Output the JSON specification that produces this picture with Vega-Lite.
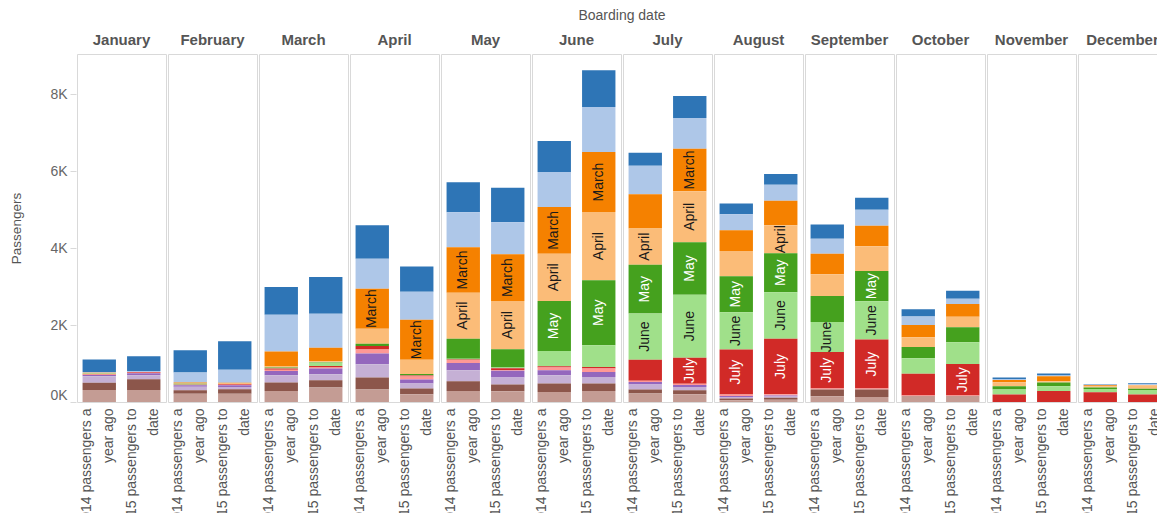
{
  "$schema": "https://vega.github.io/schema/vega-lite/v6.json",
  "padding": {"left": 9, "top": 9, "right": 0, "bottom": 0},
  "datasets": {
    "raw": [
      {"boarding":"January","series":"2014 passengers a year ago","booking":"January","bm":1,"n":322},
      {"boarding":"January","series":"2014 passengers a year ago","booking":"February","bm":2,"n":20},
      {"boarding":"January","series":"2014 passengers a year ago","booking":"March","bm":3,"n":10},
      {"boarding":"January","series":"2014 passengers a year ago","booking":"April","bm":4,"n":10},
      {"boarding":"January","series":"2014 passengers a year ago","booking":"May","bm":5,"n":5},
      {"boarding":"January","series":"2014 passengers a year ago","booking":"June","bm":6,"n":8},
      {"boarding":"January","series":"2014 passengers a year ago","booking":"July","bm":7,"n":10},
      {"boarding":"January","series":"2014 passengers a year ago","booking":"August","bm":8,"n":15},
      {"boarding":"January","series":"2014 passengers a year ago","booking":"September","bm":9,"n":35},
      {"boarding":"January","series":"2014 passengers a year ago","booking":"October","bm":10,"n":164},
      {"boarding":"January","series":"2014 passengers a year ago","booking":"November","bm":11,"n":190},
      {"boarding":"January","series":"2014 passengers a year ago","booking":"December","bm":12,"n":312},
      {"boarding":"January","series":"2015 passengers to date","booking":"January","bm":1,"n":382},
      {"boarding":"January","series":"2015 passengers to date","booking":"February","bm":2,"n":26},
      {"boarding":"January","series":"2015 passengers to date","booking":"July","bm":7,"n":20},
      {"boarding":"January","series":"2015 passengers to date","booking":"August","bm":8,"n":14},
      {"boarding":"January","series":"2015 passengers to date","booking":"September","bm":9,"n":52},
      {"boarding":"January","series":"2015 passengers to date","booking":"October","bm":10,"n":104},
      {"boarding":"January","series":"2015 passengers to date","booking":"November","bm":11,"n":278},
      {"boarding":"January","series":"2015 passengers to date","booking":"December","bm":12,"n":312},

      {"boarding":"February","series":"2014 passengers a year ago","booking":"January","bm":1,"n":580},
      {"boarding":"February","series":"2014 passengers a year ago","booking":"February","bm":2,"n":260},
      {"boarding":"February","series":"2014 passengers a year ago","booking":"March","bm":3,"n":20},
      {"boarding":"February","series":"2014 passengers a year ago","booking":"April","bm":4,"n":10},
      {"boarding":"February","series":"2014 passengers a year ago","booking":"May","bm":5,"n":15},
      {"boarding":"February","series":"2014 passengers a year ago","booking":"June","bm":6,"n":10},
      {"boarding":"February","series":"2014 passengers a year ago","booking":"July","bm":7,"n":8},
      {"boarding":"February","series":"2014 passengers a year ago","booking":"August","bm":8,"n":8},
      {"boarding":"February","series":"2014 passengers a year ago","booking":"September","bm":9,"n":40},
      {"boarding":"February","series":"2014 passengers a year ago","booking":"October","bm":10,"n":90},
      {"boarding":"February","series":"2014 passengers a year ago","booking":"November","bm":11,"n":87},
      {"boarding":"February","series":"2014 passengers a year ago","booking":"December","bm":12,"n":217},
      {"boarding":"February","series":"2015 passengers to date","booking":"January","bm":1,"n":736},
      {"boarding":"February","series":"2015 passengers to date","booking":"February","bm":2,"n":338},
      {"boarding":"February","series":"2015 passengers to date","booking":"March","bm":3,"n":25},
      {"boarding":"February","series":"2015 passengers to date","booking":"April","bm":4,"n":10},
      {"boarding":"February","series":"2015 passengers to date","booking":"July","bm":7,"n":20},
      {"boarding":"February","series":"2015 passengers to date","booking":"August","bm":8,"n":15},
      {"boarding":"February","series":"2015 passengers to date","booking":"September","bm":9,"n":44},
      {"boarding":"February","series":"2015 passengers to date","booking":"October","bm":10,"n":60},
      {"boarding":"February","series":"2015 passengers to date","booking":"November","bm":11,"n":112},
      {"boarding":"February","series":"2015 passengers to date","booking":"December","bm":12,"n":217},

      {"boarding":"March","series":"2014 passengers a year ago","booking":"January","bm":1,"n":719},
      {"boarding":"March","series":"2014 passengers a year ago","booking":"February","bm":2,"n":953},
      {"boarding":"March","series":"2014 passengers a year ago","booking":"March","bm":3,"n":390},
      {"boarding":"March","series":"2014 passengers a year ago","booking":"April","bm":4,"n":26},
      {"boarding":"March","series":"2014 passengers a year ago","booking":"May","bm":5,"n":18},
      {"boarding":"March","series":"2014 passengers a year ago","booking":"June","bm":6,"n":13},
      {"boarding":"March","series":"2014 passengers a year ago","booking":"July","bm":7,"n":30},
      {"boarding":"March","series":"2014 passengers a year ago","booking":"August","bm":8,"n":32},
      {"boarding":"March","series":"2014 passengers a year ago","booking":"September","bm":9,"n":112},
      {"boarding":"March","series":"2014 passengers a year ago","booking":"October","bm":10,"n":190},
      {"boarding":"March","series":"2014 passengers a year ago","booking":"November","bm":11,"n":218},
      {"boarding":"March","series":"2014 passengers a year ago","booking":"December","bm":12,"n":286},
      {"boarding":"March","series":"2015 passengers to date","booking":"January","bm":1,"n":953},
      {"boarding":"March","series":"2015 passengers to date","booking":"February","bm":2,"n":883},
      {"boarding":"March","series":"2015 passengers to date","booking":"March","bm":3,"n":353},
      {"boarding":"March","series":"2015 passengers to date","booking":"April","bm":4,"n":25},
      {"boarding":"March","series":"2015 passengers to date","booking":"May","bm":5,"n":15},
      {"boarding":"March","series":"2015 passengers to date","booking":"June","bm":6,"n":80},
      {"boarding":"March","series":"2015 passengers to date","booking":"July","bm":7,"n":40},
      {"boarding":"March","series":"2015 passengers to date","booking":"August","bm":8,"n":30},
      {"boarding":"March","series":"2015 passengers to date","booking":"September","bm":9,"n":148},
      {"boarding":"March","series":"2015 passengers to date","booking":"October","bm":10,"n":156},
      {"boarding":"March","series":"2015 passengers to date","booking":"November","bm":11,"n":190},
      {"boarding":"March","series":"2015 passengers to date","booking":"December","bm":12,"n":374},

      {"boarding":"April","series":"2014 passengers a year ago","booking":"January","bm":1,"n":866},
      {"boarding":"April","series":"2014 passengers a year ago","booking":"February","bm":2,"n":779},
      {"boarding":"April","series":"2014 passengers a year ago","booking":"March","bm":3,"n":1039},
      {"boarding":"April","series":"2014 passengers a year ago","booking":"April","bm":4,"n":390},
      {"boarding":"April","series":"2014 passengers a year ago","booking":"May","bm":5,"n":60},
      {"boarding":"April","series":"2014 passengers a year ago","booking":"July","bm":7,"n":94},
      {"boarding":"April","series":"2014 passengers a year ago","booking":"August","bm":8,"n":104},
      {"boarding":"April","series":"2014 passengers a year ago","booking":"September","bm":9,"n":278},
      {"boarding":"April","series":"2014 passengers a year ago","booking":"October","bm":10,"n":346},
      {"boarding":"April","series":"2014 passengers a year ago","booking":"November","bm":11,"n":312},
      {"boarding":"April","series":"2014 passengers a year ago","booking":"December","bm":12,"n":322},
      {"boarding":"April","series":"2015 passengers to date","booking":"January","bm":1,"n":658},
      {"boarding":"April","series":"2015 passengers to date","booking":"February","bm":2,"n":727},
      {"boarding":"April","series":"2015 passengers to date","booking":"March","bm":3,"n":1039},
      {"boarding":"April","series":"2015 passengers to date","booking":"April","bm":4,"n":372},
      {"boarding":"April","series":"2015 passengers to date","booking":"May","bm":5,"n":30},
      {"boarding":"April","series":"2015 passengers to date","booking":"June","bm":6,"n":10},
      {"boarding":"April","series":"2015 passengers to date","booking":"July","bm":7,"n":25},
      {"boarding":"April","series":"2015 passengers to date","booking":"August","bm":8,"n":80},
      {"boarding":"April","series":"2015 passengers to date","booking":"September","bm":9,"n":104},
      {"boarding":"April","series":"2015 passengers to date","booking":"October","bm":10,"n":130},
      {"boarding":"April","series":"2015 passengers to date","booking":"November","bm":11,"n":148},
      {"boarding":"April","series":"2015 passengers to date","booking":"December","bm":12,"n":200},

      {"boarding":"May","series":"2014 passengers a year ago","booking":"January","bm":1,"n":779},
      {"boarding":"May","series":"2014 passengers a year ago","booking":"February","bm":2,"n":909},
      {"boarding":"May","series":"2014 passengers a year ago","booking":"March","bm":3,"n":1184},
      {"boarding":"May","series":"2014 passengers a year ago","booking":"April","bm":4,"n":1195},
      {"boarding":"May","series":"2014 passengers a year ago","booking":"May","bm":5,"n":519},
      {"boarding":"May","series":"2014 passengers a year ago","booking":"June","bm":6,"n":20},
      {"boarding":"May","series":"2014 passengers a year ago","booking":"July","bm":7,"n":10},
      {"boarding":"May","series":"2014 passengers a year ago","booking":"August","bm":8,"n":80},
      {"boarding":"May","series":"2014 passengers a year ago","booking":"September","bm":9,"n":190},
      {"boarding":"May","series":"2014 passengers a year ago","booking":"October","bm":10,"n":286},
      {"boarding":"May","series":"2014 passengers a year ago","booking":"November","bm":11,"n":252},
      {"boarding":"May","series":"2014 passengers a year ago","booking":"December","bm":12,"n":286},
      {"boarding":"May","series":"2015 passengers to date","booking":"January","bm":1,"n":901},
      {"boarding":"May","series":"2015 passengers to date","booking":"February","bm":2,"n":831},
      {"boarding":"May","series":"2015 passengers to date","booking":"March","bm":3,"n":1210},
      {"boarding":"May","series":"2015 passengers to date","booking":"April","bm":4,"n":1257},
      {"boarding":"May","series":"2015 passengers to date","booking":"May","bm":5,"n":475},
      {"boarding":"May","series":"2015 passengers to date","booking":"June","bm":6,"n":20},
      {"boarding":"May","series":"2015 passengers to date","booking":"July","bm":7,"n":40},
      {"boarding":"May","series":"2015 passengers to date","booking":"August","bm":8,"n":20},
      {"boarding":"May","series":"2015 passengers to date","booking":"September","bm":9,"n":180},
      {"boarding":"May","series":"2015 passengers to date","booking":"October","bm":10,"n":182},
      {"boarding":"May","series":"2015 passengers to date","booking":"November","bm":11,"n":174},
      {"boarding":"May","series":"2015 passengers to date","booking":"December","bm":12,"n":278},

      {"boarding":"June","series":"2014 passengers a year ago","booking":"January","bm":1,"n":805},
      {"boarding":"June","series":"2014 passengers a year ago","booking":"February","bm":2,"n":909},
      {"boarding":"June","series":"2014 passengers a year ago","booking":"March","bm":3,"n":1210},
      {"boarding":"June","series":"2014 passengers a year ago","booking":"April","bm":4,"n":1231},
      {"boarding":"June","series":"2014 passengers a year ago","booking":"May","bm":5,"n":1298},
      {"boarding":"June","series":"2014 passengers a year ago","booking":"June","bm":6,"n":397},
      {"boarding":"June","series":"2014 passengers a year ago","booking":"July","bm":7,"n":30},
      {"boarding":"June","series":"2014 passengers a year ago","booking":"August","bm":8,"n":74},
      {"boarding":"June","series":"2014 passengers a year ago","booking":"September","bm":9,"n":130},
      {"boarding":"June","series":"2014 passengers a year ago","booking":"October","bm":10,"n":216},
      {"boarding":"June","series":"2014 passengers a year ago","booking":"November","bm":11,"n":218},
      {"boarding":"June","series":"2014 passengers a year ago","booking":"December","bm":12,"n":260},
      {"boarding":"June","series":"2015 passengers to date","booking":"January","bm":1,"n":953},
      {"boarding":"June","series":"2015 passengers to date","booking":"February","bm":2,"n":1169},
      {"boarding":"June","series":"2015 passengers to date","booking":"March","bm":3,"n":1558},
      {"boarding":"June","series":"2015 passengers to date","booking":"April","bm":4,"n":1774},
      {"boarding":"June","series":"2015 passengers to date","booking":"May","bm":5,"n":1688},
      {"boarding":"June","series":"2015 passengers to date","booking":"June","bm":6,"n":563},
      {"boarding":"June","series":"2015 passengers to date","booking":"July","bm":7,"n":40},
      {"boarding":"June","series":"2015 passengers to date","booking":"August","bm":8,"n":90},
      {"boarding":"June","series":"2015 passengers to date","booking":"September","bm":9,"n":130},
      {"boarding":"June","series":"2015 passengers to date","booking":"October","bm":10,"n":172},
      {"boarding":"June","series":"2015 passengers to date","booking":"November","bm":11,"n":192},
      {"boarding":"June","series":"2015 passengers to date","booking":"December","bm":12,"n":286},

      {"boarding":"July","series":"2014 passengers a year ago","booking":"January","bm":1,"n":338},
      {"boarding":"July","series":"2014 passengers a year ago","booking":"February","bm":2,"n":735},
      {"boarding":"July","series":"2014 passengers a year ago","booking":"March","bm":3,"n":893},
      {"boarding":"July","series":"2014 passengers a year ago","booking":"April","bm":4,"n":943},
      {"boarding":"July","series":"2014 passengers a year ago","booking":"May","bm":5,"n":1265},
      {"boarding":"July","series":"2014 passengers a year ago","booking":"June","bm":6,"n":1203},
      {"boarding":"July","series":"2014 passengers a year ago","booking":"July","bm":7,"n":545},
      {"boarding":"July","series":"2014 passengers a year ago","booking":"August","bm":8,"n":30},
      {"boarding":"July","series":"2014 passengers a year ago","booking":"September","bm":9,"n":68},
      {"boarding":"July","series":"2014 passengers a year ago","booking":"October","bm":10,"n":130},
      {"boarding":"July","series":"2014 passengers a year ago","booking":"November","bm":11,"n":104},
      {"boarding":"July","series":"2014 passengers a year ago","booking":"December","bm":12,"n":218},
      {"boarding":"July","series":"2015 passengers to date","booking":"January","bm":1,"n":571},
      {"boarding":"July","series":"2015 passengers to date","booking":"February","bm":2,"n":795},
      {"boarding":"July","series":"2015 passengers to date","booking":"March","bm":3,"n":1109},
      {"boarding":"July","series":"2015 passengers to date","booking":"April","bm":4,"n":1325},
      {"boarding":"July","series":"2015 passengers to date","booking":"May","bm":5,"n":1359},
      {"boarding":"July","series":"2015 passengers to date","booking":"June","bm":6,"n":1636},
      {"boarding":"July","series":"2015 passengers to date","booking":"July","bm":7,"n":675},
      {"boarding":"July","series":"2015 passengers to date","booking":"August","bm":8,"n":35},
      {"boarding":"July","series":"2015 passengers to date","booking":"September","bm":9,"n":52},
      {"boarding":"July","series":"2015 passengers to date","booking":"October","bm":10,"n":86},
      {"boarding":"July","series":"2015 passengers to date","booking":"November","bm":11,"n":104},
      {"boarding":"July","series":"2015 passengers to date","booking":"December","bm":12,"n":200},

      {"boarding":"August","series":"2014 passengers a year ago","booking":"January","bm":1,"n":278},
      {"boarding":"August","series":"2014 passengers a year ago","booking":"February","bm":2,"n":416},
      {"boarding":"August","series":"2014 passengers a year ago","booking":"March","bm":3,"n":537},
      {"boarding":"August","series":"2014 passengers a year ago","booking":"April","bm":4,"n":658},
      {"boarding":"August","series":"2014 passengers a year ago","booking":"May","bm":5,"n":935},
      {"boarding":"August","series":"2014 passengers a year ago","booking":"June","bm":6,"n":969},
      {"boarding":"August","series":"2014 passengers a year ago","booking":"July","bm":7,"n":1169},
      {"boarding":"August","series":"2014 passengers a year ago","booking":"August","bm":8,"n":35},
      {"boarding":"August","series":"2014 passengers a year ago","booking":"September","bm":9,"n":30},
      {"boarding":"August","series":"2014 passengers a year ago","booking":"October","bm":10,"n":40},
      {"boarding":"August","series":"2014 passengers a year ago","booking":"November","bm":11,"n":44},
      {"boarding":"August","series":"2014 passengers a year ago","booking":"December","bm":12,"n":44},
      {"boarding":"August","series":"2015 passengers to date","booking":"January","bm":1,"n":278},
      {"boarding":"August","series":"2015 passengers to date","booking":"February","bm":2,"n":416},
      {"boarding":"August","series":"2015 passengers to date","booking":"March","bm":3,"n":639},
      {"boarding":"August","series":"2015 passengers to date","booking":"April","bm":4,"n":727},
      {"boarding":"August","series":"2015 passengers to date","booking":"May","bm":5,"n":1013},
      {"boarding":"August","series":"2015 passengers to date","booking":"June","bm":6,"n":1205},
      {"boarding":"August","series":"2015 passengers to date","booking":"July","bm":7,"n":1444},
      {"boarding":"August","series":"2015 passengers to date","booking":"August","bm":8,"n":30},
      {"boarding":"August","series":"2015 passengers to date","booking":"September","bm":9,"n":30},
      {"boarding":"August","series":"2015 passengers to date","booking":"October","bm":10,"n":30},
      {"boarding":"August","series":"2015 passengers to date","booking":"November","bm":11,"n":52},
      {"boarding":"August","series":"2015 passengers to date","booking":"December","bm":12,"n":60},

      {"boarding":"September","series":"2014 passengers a year ago","booking":"January","bm":1,"n":371},
      {"boarding":"September","series":"2014 passengers a year ago","booking":"February","bm":2,"n":390},
      {"boarding":"September","series":"2014 passengers a year ago","booking":"March","bm":3,"n":537},
      {"boarding":"September","series":"2014 passengers a year ago","booking":"April","bm":4,"n":563},
      {"boarding":"September","series":"2014 passengers a year ago","booking":"May","bm":5,"n":675},
      {"boarding":"September","series":"2014 passengers a year ago","booking":"June","bm":6,"n":779},
      {"boarding":"September","series":"2014 passengers a year ago","booking":"July","bm":7,"n":951},
      {"boarding":"September","series":"2014 passengers a year ago","booking":"August","bm":8,"n":26},
      {"boarding":"September","series":"2014 passengers a year ago","booking":"November","bm":11,"n":174},
      {"boarding":"September","series":"2014 passengers a year ago","booking":"December","bm":12,"n":148},
      {"boarding":"September","series":"2015 passengers to date","booking":"January","bm":1,"n":312},
      {"boarding":"September","series":"2015 passengers to date","booking":"February","bm":2,"n":416},
      {"boarding":"September","series":"2015 passengers to date","booking":"March","bm":3,"n":537},
      {"boarding":"September","series":"2015 passengers to date","booking":"April","bm":4,"n":641},
      {"boarding":"September","series":"2015 passengers to date","booking":"May","bm":5,"n":787},
      {"boarding":"September","series":"2015 passengers to date","booking":"June","bm":6,"n":995},
      {"boarding":"September","series":"2015 passengers to date","booking":"July","bm":7,"n":1273},
      {"boarding":"September","series":"2015 passengers to date","booking":"August","bm":8,"n":26},
      {"boarding":"September","series":"2015 passengers to date","booking":"November","bm":11,"n":192},
      {"boarding":"September","series":"2015 passengers to date","booking":"December","bm":12,"n":130},

      {"boarding":"October","series":"2014 passengers a year ago","booking":"January","bm":1,"n":192},
      {"boarding":"October","series":"2014 passengers a year ago","booking":"February","bm":2,"n":216},
      {"boarding":"October","series":"2014 passengers a year ago","booking":"March","bm":3,"n":320},
      {"boarding":"October","series":"2014 passengers a year ago","booking":"April","bm":4,"n":252},
      {"boarding":"October","series":"2014 passengers a year ago","booking":"May","bm":5,"n":294},
      {"boarding":"October","series":"2014 passengers a year ago","booking":"June","bm":6,"n":400},
      {"boarding":"October","series":"2014 passengers a year ago","booking":"July","bm":7,"n":571},
      {"boarding":"October","series":"2014 passengers a year ago","booking":"August","bm":8,"n":10},
      {"boarding":"October","series":"2014 passengers a year ago","booking":"December","bm":12,"n":156},
      {"boarding":"October","series":"2015 passengers to date","booking":"January","bm":1,"n":208},
      {"boarding":"October","series":"2015 passengers to date","booking":"February","bm":2,"n":138},
      {"boarding":"October","series":"2015 passengers to date","booking":"March","bm":3,"n":330},
      {"boarding":"October","series":"2015 passengers to date","booking":"April","bm":4,"n":275},
      {"boarding":"October","series":"2015 passengers to date","booking":"May","bm":5,"n":390},
      {"boarding":"October","series":"2015 passengers to date","booking":"June","bm":6,"n":563},
      {"boarding":"October","series":"2015 passengers to date","booking":"July","bm":7,"n":823},
      {"boarding":"October","series":"2015 passengers to date","booking":"August","bm":8,"n":10},
      {"boarding":"October","series":"2015 passengers to date","booking":"December","bm":12,"n":156},

      {"boarding":"November","series":"2014 passengers a year ago","booking":"January","bm":1,"n":36},
      {"boarding":"November","series":"2014 passengers a year ago","booking":"February","bm":2,"n":26},
      {"boarding":"November","series":"2014 passengers a year ago","booking":"March","bm":3,"n":60},
      {"boarding":"November","series":"2014 passengers a year ago","booking":"April","bm":4,"n":104},
      {"boarding":"November","series":"2014 passengers a year ago","booking":"May","bm":5,"n":87},
      {"boarding":"November","series":"2014 passengers a year ago","booking":"June","bm":6,"n":130},
      {"boarding":"November","series":"2014 passengers a year ago","booking":"July","bm":7,"n":192},
      {"boarding":"November","series":"2015 passengers to date","booking":"January","bm":1,"n":52},
      {"boarding":"November","series":"2015 passengers to date","booking":"February","bm":2,"n":18},
      {"boarding":"November","series":"2015 passengers to date","booking":"March","bm":3,"n":130},
      {"boarding":"November","series":"2015 passengers to date","booking":"April","bm":4,"n":35},
      {"boarding":"November","series":"2015 passengers to date","booking":"May","bm":5,"n":96},
      {"boarding":"November","series":"2015 passengers to date","booking":"June","bm":6,"n":122},
      {"boarding":"November","series":"2015 passengers to date","booking":"July","bm":7,"n":286},

      {"boarding":"December","series":"2014 passengers a year ago","booking":"January","bm":1,"n":18},
      {"boarding":"December","series":"2014 passengers a year ago","booking":"February","bm":2,"n":10},
      {"boarding":"December","series":"2014 passengers a year ago","booking":"March","bm":3,"n":26},
      {"boarding":"December","series":"2014 passengers a year ago","booking":"April","bm":4,"n":35},
      {"boarding":"December","series":"2014 passengers a year ago","booking":"May","bm":5,"n":35},
      {"boarding":"December","series":"2014 passengers a year ago","booking":"June","bm":6,"n":87},
      {"boarding":"December","series":"2014 passengers a year ago","booking":"July","bm":7,"n":252},
      {"boarding":"December","series":"2015 passengers to date","booking":"January","bm":1,"n":26},
      {"boarding":"December","series":"2015 passengers to date","booking":"February","bm":2,"n":15},
      {"boarding":"December","series":"2015 passengers to date","booking":"March","bm":3,"n":10},
      {"boarding":"December","series":"2015 passengers to date","booking":"April","bm":4,"n":87},
      {"boarding":"December","series":"2015 passengers to date","booking":"May","bm":5,"n":35},
      {"boarding":"December","series":"2015 passengers to date","booking":"June","bm":6,"n":120},
      {"boarding":"December","series":"2015 passengers to date","booking":"July","bm":7,"n":192}
    ]
  },
  "data": {"name": "raw"},
  "transform": [
    {"stack": "n", "groupby": ["boarding", "series"], "sort": [{"field": "bm", "order": "descending"}], "as": ["y0", "y1"]}
  ],
  "facet": {
    "column": {
      "field": "boarding",
      "type": "nominal",
      "sort": ["January","February","March","April","May","June","July","August","September","October","November","December"],
      "title": "Boarding date"
    }
  },
  "spacing": 0,
  "spec": {
    "width": 89,
    "height": 348,
    "encoding": {
      "x": {
        "field": "series", "type": "nominal",
        "scale": {"paddingInner": 0.25, "paddingOuter": 0.125},
        "axis": {
          "title": null, "labelAngle": -90, "labelAlign": "right", "labelBaseline": "middle",
          "labelFontSize": 14, "labelColor": "#555", "labelPadding": 5, "labelLineHeight": 22, "labelOffset": -12,
          "ticks": false, "domain": false,
          "labelExpr": "datum.value == '2014 passengers a year ago' ? ['2014 passengers a', 'year ago'] : ['2015 passengers to', 'date']"
        }
      }
    },
    "layer": [
      {
        "mark": {"type": "bar"},
        "encoding": {
          "y": {
            "field": "y0", "type": "quantitative",
            "scale": {"domain": [0, 9040], "nice": false},
            "axis": {
              "title": "Passengers", "values": [0, 2000, 4000, 6000, 8000],
              "labelExpr": "datum.value / 1000 + 'K'", "labelFontSize": 14, "labelColor": "#666", "labelFlush": true,
              "tickSize": 6, "tickColor": "#d9d9d9", "labelPadding": 3, "domain": false, "grid": false,
              "titleFontSize": 13.5, "titleColor": "#555", "titleFontWeight": "normal", "titlePadding": 26
            }
          },
          "y2": {"field": "y1"},
          "color": {
            "field": "booking", "type": "nominal", "legend": null,
            "scale": {
              "domain": ["January","February","March","April","May","June","July","August","September","October","November","December"],
              "range": ["#2e75b6","#aec7e8","#f58100","#fbbc78","#45a11e","#a0e08a","#d12a27","#ff9896","#9467bd","#c5b0d5","#8c564b","#c49c94"]
            }
          }
        }
      },
      {
        "transform": [
          {"filter": "indexof(['March','April','May','June','July'], datum.booking) >= 0 && datum.n >= (datum.booking === 'March' ? 1000 : (datum.booking === 'July' ? 600 : 700))"},
          {"calculate": "(datum.y0 + datum.y1) / 2", "as": "ymid"}
        ],
        "mark": {"type": "text", "angle": 270, "fontSize": 14, "font": "Liberation Sans", "align": "center", "baseline": "middle"},
        "encoding": {
          "y": {"field": "ymid", "type": "quantitative"},
          "text": {"field": "booking"},
          "color": {"condition": {"test": "datum.booking === 'May' || datum.booking === 'July'", "value": "#ffffff"}, "value": "#1a1a1a"}
        }
      }
    ]
  },
  "config": {
    "font": "Liberation Sans",
    "view": {"stroke": "#d9d9d9", "strokeWidth": 1},
    "header": {
      "titleFontSize": 14, "titleColor": "#555", "titleFontWeight": "normal", "titleFont": "Liberation Sans", "titlePadding": 0,
      "labelFontSize": 15, "labelFontWeight": "bold", "labelColor": "#555", "labelFont": "Liberation Sans", "labelPadding": 5
    }
  }
}
